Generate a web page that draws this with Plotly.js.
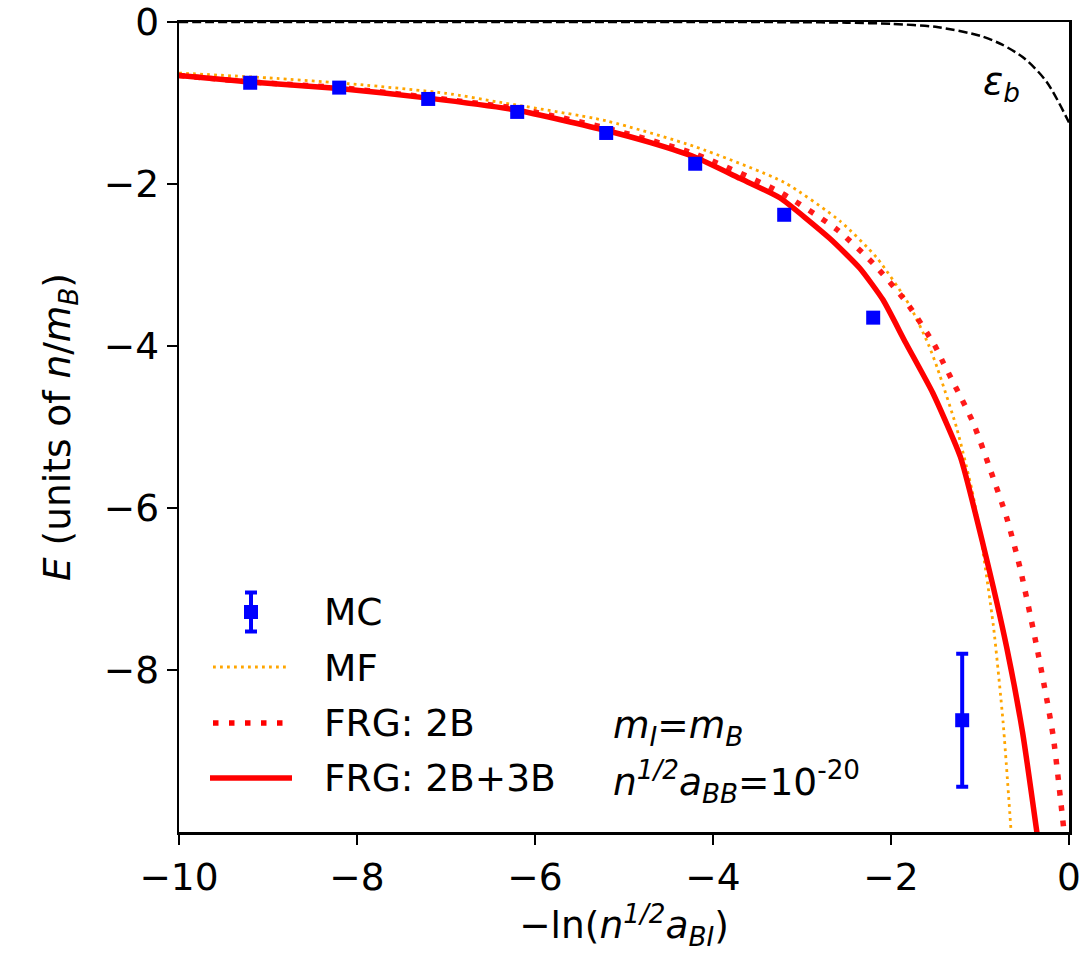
<!DOCTYPE html>
<html>
<head>
<meta charset="utf-8">
<script src="https://cdn.plot.ly/plotly-3.0.1.min.js"></script>
<style>html,body{margin:0;padding:0;background:#fff;}#chart{width:1080px;height:958px;}</style>
</head>
<body>
<div id="chart"></div>
<script>
// ---- data ----
const mcX   = [-9.2, -8.2, -7.2, -6.2, -5.2, -4.2, -3.2, -2.2, -1.2];
const mcE   = [-0.75, -0.81, -0.95, -1.11, -1.37, -1.75, -2.38, -3.65, -8.62];
const mcErr = [0, 0, 0, 0, 0, 0, 0, 0, 0.82];

const mfX = [-10, -9, -8, -7, -6.4, -5.2, -4.2, -3.2, -2.57, -2.16, -1.79, -1.58, -1.48, -1.26, -1.09, -1.0, -0.85, -0.74, -0.65];
const mfE = [-0.63, -0.69, -0.77, -0.88, -0.99, -1.22, -1.54, -1.98, -2.46, -2.91, -3.50, -3.98, -4.27, -5.02, -5.78, -6.30, -7.45, -8.65, -10.0];

const frg2X = [-10, -9.2, -8.2, -7.2, -6.2, -5.2, -4.2, -3.25, -2.61, -2.2, -1.82, -1.51, -1.42, -1.08, -0.88, -0.70, -0.55, -0.35, -0.18, -0.07, -0.05];
const frg2E = [-0.66, -0.74, -0.81, -0.93, -1.07, -1.31, -1.63, -2.10, -2.56, -2.98, -3.47, -3.99, -4.19, -4.94, -5.54, -6.12, -6.74, -7.78, -8.80, -9.85, -10.05];

const frg23X = [-10, -9.2, -8.2, -7.2, -6.2, -5.2, -4.7, -4.2, -3.7, -3.25, -2.69, -2.35, -2.09, -1.84, -1.53, -1.22, -0.97, -0.70, -0.52, -0.355];
const frg23E = [-0.66, -0.74, -0.82, -0.94, -1.09, -1.34, -1.49, -1.67, -1.93, -2.17, -2.67, -3.04, -3.43, -3.95, -4.58, -5.37, -6.43, -7.72, -8.78, -10.05];

const epsX = [-10, -6, -4, -3, -2.5, -2, -1.5, -1, -0.75, -0.5, -0.25, 0];
const epsE = [0, 0, 0, -0.003, -0.008, -0.023, -0.06, -0.17, -0.28, -0.45, -0.74, -1.24];

const xTicks = [-10, -8, -6, -4, -2, 0];
const yTicks = [-8, -6, -4, -2, 0];
const legendNames = ['MC', 'MF', 'FRG: 2B', 'FRG: 2B+3B'];

// ---- styling ----
const FONT = 'DejaVu Sans, Verdana, sans-serif';
const FS = 37.5;
const BLUE = '#0000ff', ORANGE = '#ffa500', RED = '#ff0000';

const traces = [
  {x: epsX, y: epsE, mode: 'lines', line: {color: '#000', width: 2.5, dash: '9px,4px', shape: 'spline', smoothing: 0.8}, showlegend: false, hoverinfo: 'skip'},
  {x: mfX, y: mfE, mode: 'lines', name: legendNames[1], line: {color: ORANGE, width: 2.8, dash: '2.8px,4.2px', shape: 'spline', smoothing: 0.6}, showlegend: false},
  {x: frg2X, y: frg2E, mode: 'lines', name: legendNames[2], line: {color: RED, width: 5.5, dash: '5.5px,10px', shape: 'spline', smoothing: 0.6}, opacity: 0.9, showlegend: false},
  {x: frg23X, y: frg23E, mode: 'lines', name: legendNames[3], line: {color: RED, width: 5.5, shape: 'spline', smoothing: 0.5}, showlegend: false},
  {x: mcX, y: mcE, mode: 'markers', name: legendNames[0], marker: {symbol: 'square', size: 14, color: BLUE},
   error_y: {type: 'data', array: mcErr, visible: true, color: BLUE, thickness: 4, width: 6}, showlegend: false}
];

// custom legend (paper coords)
const px2x = p => (p - 179) / 890;
const px2y = p => (832 - p) / 810;
const shapes = [
  {type: 'rect', xref: 'paper', yref: 'paper', xsizemode: 'pixel', ysizemode: 'pixel', xanchor: px2x(251), yanchor: px2y(612), x0: -7, x1: 7, y0: -7, y1: 7, fillcolor: BLUE, line: {width: 0}},
  {type: 'line', xref: 'paper', yref: 'paper', xsizemode: 'pixel', ysizemode: 'pixel', xanchor: px2x(251), yanchor: px2y(612), x0: 0, x1: 0, y0: -19.5, y1: 19.5, line: {color: BLUE, width: 4}},
  {type: 'line', xref: 'paper', yref: 'paper', xsizemode: 'pixel', ysizemode: 'pixel', xanchor: px2x(251), yanchor: px2y(612), x0: -6, x1: 6, y0: -19.5, y1: -19.5, line: {color: BLUE, width: 4}},
  {type: 'line', xref: 'paper', yref: 'paper', xsizemode: 'pixel', ysizemode: 'pixel', xanchor: px2x(251), yanchor: px2y(612), x0: -6, x1: 6, y0: 19.5, y1: 19.5, line: {color: BLUE, width: 4}},
  {type: 'line', xref: 'paper', yref: 'paper', x0: px2x(213), x1: px2x(290), y0: px2y(667), y1: px2y(667), line: {color: ORANGE, width: 2.8, dash: '2.8px,4.2px'}},
  {type: 'line', xref: 'paper', yref: 'paper', x0: px2x(213), x1: px2x(292), y0: px2y(723), y1: px2y(723), line: {color: RED, width: 5.5, dash: '5.5px,10.5px'}},
  {type: 'line', xref: 'paper', yref: 'paper', x0: px2x(210), x1: px2x(292), y0: px2y(778), y1: px2y(778), line: {color: RED, width: 5.5}}
];
const legY = [612, 668, 723, 778];
const annotations = legendNames.map((t, i) => ({
  xref: 'paper', yref: 'paper', x: px2x(322), y: px2y(legY[i]), xanchor: 'left', yanchor: 'middle',
  text: t, showarrow: false, font: {family: FONT, size: FS, color: '#000'}
}));
annotations.push(
  {xref: 'paper', yref: 'paper', x: px2x(611), y: px2y(727), xanchor: 'left', yanchor: 'middle', showarrow: false,
   text: '<i>m</i><sub><i>I</i></sub>=<i>m</i><sub><i>B</i></sub>', font: {family: FONT, size: FS, color: '#000'}},
  {xref: 'paper', yref: 'paper', x: px2x(611), y: px2y(782), xanchor: 'left', yanchor: 'middle', showarrow: false,
   text: '<i>n</i><sup><i>1/2</i></sup><i>a</i><sub><i>BB</i></sub>=10<sup>-20</sup>', font: {family: FONT, size: FS, color: '#000'}},
  {xref: 'paper', yref: 'paper', x: px2x(981), y: px2y(84), xanchor: 'left', yanchor: 'middle', showarrow: false,
   text: '<i>ε</i><sub><i>b</i></sub>', font: {family: FONT, size: FS, color: '#000'}}
);

const axisCommon = {
  showgrid: false, zeroline: false, showline: true, mirror: true, linecolor: '#000', linewidth: 2.5,
  ticks: 'outside', ticklen: 10, tickwidth: 2, tickcolor: '#000', ticklabeloverflow: 'allow',
  tickfont: {family: FONT, size: FS, color: '#000'}
};

const layout = {
  width: 1080, height: 958,
  margin: {l: 179, r: 11, t: 22, b: 126},
  paper_bgcolor: '#fff', plot_bgcolor: '#fff',
  font: {family: FONT, size: FS, color: '#000'},
  showlegend: false,
  xaxis: Object.assign({}, axisCommon, {
    range: [-10, 0.0001], tickvals: xTicks,
    title: {text: '−ln(<i>n</i><sup><i>1/2</i></sup><i>a</i><sub><i>BI</i></sub>)', font: {family: FONT, size: FS, color: '#000'}, standoff: 14}
  }),
  yaxis: Object.assign({}, axisCommon, {
    range: [-10, 0], tickvals: yTicks,
    title: {text: '<i>E</i> (units of <i>n</i>/<i>m</i><sub><i>B</i></sub>)', font: {family: FONT, size: FS, color: '#000'}, standoff: 22}
  }),
  shapes: shapes,
  annotations: annotations
};

Plotly.newPlot('chart', traces, layout, {staticPlot: true, displayModeBar: false});
</script>
</body>
</html>
